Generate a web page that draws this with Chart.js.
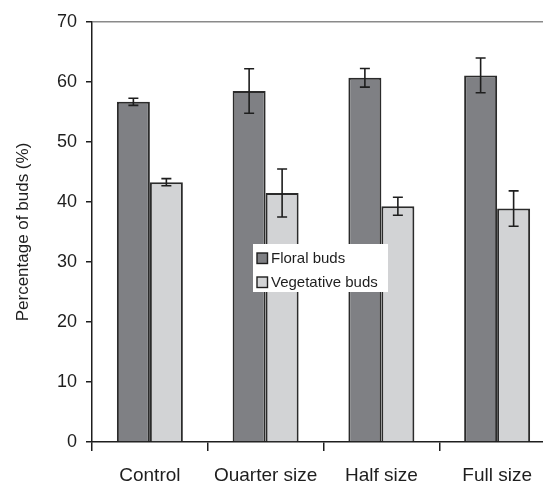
<!DOCTYPE html>
<html>
<head>
<meta charset="utf-8">
<script src="https://cdn.jsdelivr.net/npm/chart.js@4"></script>
<style>
html,body{margin:0;padding:0;background:#fff;}
#wrap{width:543px;height:481px;overflow:hidden;position:relative;}
#box{width:560px;height:481px;}
</style>
</head>
<body>
<div id="wrap"><div id="box"><canvas id="c" width="560" height="481"></canvas></div></div>
<script>
const categories = ['Control', 'Quarter size', 'Half size', 'Full size'];
const floralBuds = [56.7, 58.5, 60.7, 61.1];
const floralErr = [0.6, 3.7, 1.55, 2.9];
const vegetativeBuds = [43.3, 41.5, 39.3, 38.9];
const vegetativeErr = [0.6, 4.0, 1.5, 2.95];
const yMin = 0, yMax = 70, yStep = 10;
const yTitle = 'Percentage of buds (%)';
const seriesLabels = ['Floral buds', 'Vegetative buds'];

const FONT = 'Liberation Sans';
const INK = '#1e1e1e';

const errorBars = {
  id: 'errorBars',
  afterDatasetsDraw(chart) {
    const ctx = chart.ctx;
    const ys = chart.scales.y;
    ctx.save();
    ctx.strokeStyle = INK;
    ctx.lineWidth = 1.6;
    chart.data.datasets.forEach((ds, i) => {
      const meta = chart.getDatasetMeta(i);
      meta.data.forEach((bar, j) => {
        const v = ds.data[j], e = ds.errors[j];
        const yt = ys.getPixelForValue(v + e);
        const yb = ys.getPixelForValue(v - e);
        const x = bar.x, cw = 5;
        ctx.beginPath();
        ctx.moveTo(x, yt); ctx.lineTo(x, yb);
        ctx.moveTo(x - cw, yt); ctx.lineTo(x + cw, yt);
        ctx.moveTo(x - cw, yb); ctx.lineTo(x + cw, yb);
        ctx.stroke();
      });
    });
    ctx.restore();
  }
};

const innerLegend = {
  id: 'innerLegend',
  afterDraw(chart) {
    const ctx = chart.ctx;
    const bx = 253, by = 244, bw = 135, bh = 48;
    ctx.save();
    ctx.fillStyle = '#ffffff';
    ctx.fillRect(bx, by, bw, bh);
    ctx.font = '15px "' + FONT + '"';
    ctx.textBaseline = 'middle';
    chart.data.datasets.forEach((ds, i) => {
      const cy = by + 14 + i * 24;
      ctx.fillStyle = ds.backgroundColor;
      ctx.fillRect(bx + 4, cy - 5, 10.5, 10.5);
      ctx.strokeStyle = INK;
      ctx.lineWidth = 1.4;
      ctx.strokeRect(bx + 4, cy - 5, 10.5, 10.5);
      ctx.fillStyle = INK;
      ctx.fillText(ds.label, bx + 18, cy + 1);
    });
    ctx.restore();
  }
};

new Chart(document.getElementById('c'), {
  type: 'bar',
  data: {
    labels: categories,
    datasets: [
      { label: seriesLabels[0], data: floralBuds, errors: floralErr,
        backgroundColor: '#7f8084', borderColor: '#2b2b2b', borderWidth: 2,
        categoryPercentage: 0.57, barPercentage: 1.0 },
      { label: seriesLabels[1], data: vegetativeBuds, errors: vegetativeErr,
        backgroundColor: '#d2d3d5', borderColor: '#2b2b2b', borderWidth: 2,
        categoryPercentage: 0.57, barPercentage: 1.0 }
    ]
  },
  options: {
    responsive: false,
    animation: false,
    layout: { padding: { left: 0, top: 22, right: 5, bottom: 0 } },
    plugins: { legend: { display: false }, tooltip: { enabled: false } },
    scales: {
      x: {
        offset: true,
        grid: { offset: true, drawOnChartArea: false, color: INK, lineWidth: 1.5, tickLength: 9 },
        border: { color: INK, width: 1.5 },
        ticks: { color: INK, font: { family: FONT, size: 19 }, padding: 13, maxRotation: 0 },
        afterFit: s => { s.height = 39; }
      },
      y: {
        min: yMin, max: yMax,
        ticks: { stepSize: yStep, color: INK, font: { family: FONT, size: 18 }, padding: 9 },
        grid: {
          drawOnChartArea: true,
          color: c => (c.tick && c.tick.value === yMax) ? '#8a8a8a' : 'rgba(0,0,0,0)',
          tickColor: INK, lineWidth: 1.5, tickLength: 6
        },
        border: { color: INK, width: 1.5 },
        title: { display: true, text: yTitle, color: INK, font: { family: FONT, size: 17 }, padding: { top: 13, bottom: 0 } },
        afterFit: s => { s.width = 92; }
      }
    }
  },
  plugins: [errorBars, innerLegend]
});
</script>
</body>
</html>
